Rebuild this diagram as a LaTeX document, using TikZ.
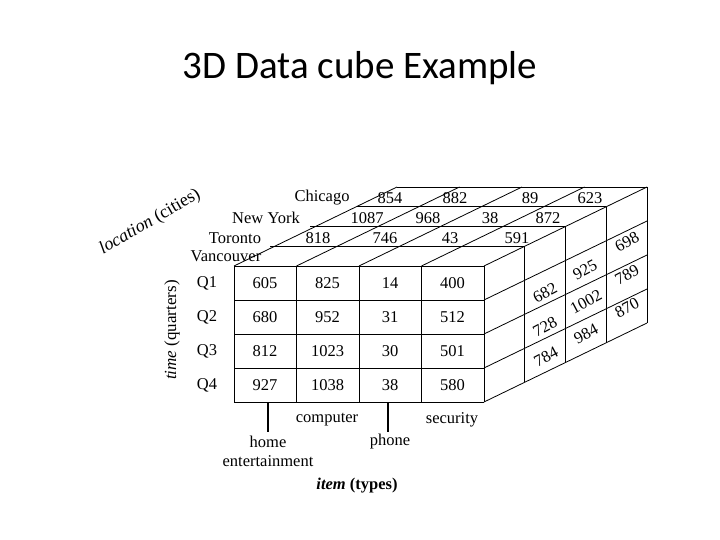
\documentclass[tikz,border=0pt]{standalone}
\usepackage{fontspec}
\setmainfont{Liberation Serif}
\newfontfamily\titlefont{Carlito}
\begin{document}
\begin{tikzpicture}[x=1pt,y=-1pt,
  every node/.style={inner sep=0pt,font=\fontsize{16.5}{18}\selectfont},
  ln/.style={line width=0.8pt},
  side/.style={rotate=28}]
\useasboundingbox (0,0) rectangle (720,540);
\node[font=\titlefont\fontsize{39}{42}\selectfont] (title) at (360,68) {3D Data cube Example};
% front grid
\foreach \i in {0,...,4} {\draw[ln] ({234+62.5*\i},266) -- ({234+62.5*\i},402);}
\foreach \j in {0,...,4} {\draw[ln] (234,{266+34*\j}) -- (484,{266+34*\j});}
% top face
\foreach \i in {0,...,4} {\draw[ln] ({234+62.5*\i},266) -- ({234+62.5*\i+163},187);}
\foreach \k/\xs in {1/270,2/310,3/357} {\draw[ln] (\xs,{266-79*\k/4}) -- ({484+163*\k/4},{266-79*\k/4});}
\draw[ln] (397,187) -- (647,187);
% right face
\foreach \k in {1,...,4} {\draw[ln] ({484+163*\k/4},{266-79*\k/4}) -- ({484+163*\k/4},{402-79*\k/4});}
\foreach \j in {1,...,4} {\draw[ln] (484,{266+34*\j}) -- (647,{266+34*\j-79});}
% top labels
\node (chi) at (322,198) {Chicago};
\node (ny) at (266,218) {New York};
\node (tor) at (235,238) {Toronto};
\node (van) at (226,256) {Vancouver};
\foreach \t/\x/\y [count=\n] in {854/390/198,882/455/198,89/530/198,623/590/198,
  1087/367/218,968/428/218,38/490/218,872/548/218,
  818/318/238,746/385/238,43/450/238,591/517/238}
  {\node (t\n) at (\x,\y) {\t};}
% front values
\foreach \r [count=\j from 0] in {{605,825,14,400},{680,952,31,512},{812,1023,30,501},{927,1038,38,580}}
  {\foreach \v [count=\i from 0] in \r {\node (f\i\j) at ({265+62.5*\i},{283+34*\j}) {\v};}}
\foreach \q [count=\j from 0] in {Q1,Q2,Q3,Q4} {\node (q\j) at (207,{283+34*\j}) {\q};}
% side values
\foreach \t/\x/\y [count=\n] in {682/545/293,728/545/327,784/546/357,925/585/270,1002/586/302,984/586/334,698/627/242,789/627/275,870/627/308}
  {\node[side] (s\n) at (\x,\y) {\t};}
% axis labels
\node[rotate=90,font=\fontsize{17}{18}\selectfont] (time) at (172,330) {\textit{time} (quarters)};
\node[rotate=30,font=\fontsize{18}{19}\selectfont] (loc) at (150,222) {\textit{location} (cities)};
\coordinate (a1) at (268,402); \coordinate (a2) at (268,432);
\coordinate (b1) at (388,402); \coordinate (b2) at (388,432);
\draw[line width=2pt] (a1) -- (a2);
\draw[line width=2pt] (b1) -- (b2);
\node (comp) at (327,420) {computer};
\node (sec) at (452,420) {security};
\node (home) at (268,442) {home};
\node (ent) at (268,461) {entertainment};
\node (ph) at (390,442) {phone};
\node (item) at (357,486) {\textbf{\textit{item}} \textbf{(types)}};
\end{tikzpicture}
\end{document}
